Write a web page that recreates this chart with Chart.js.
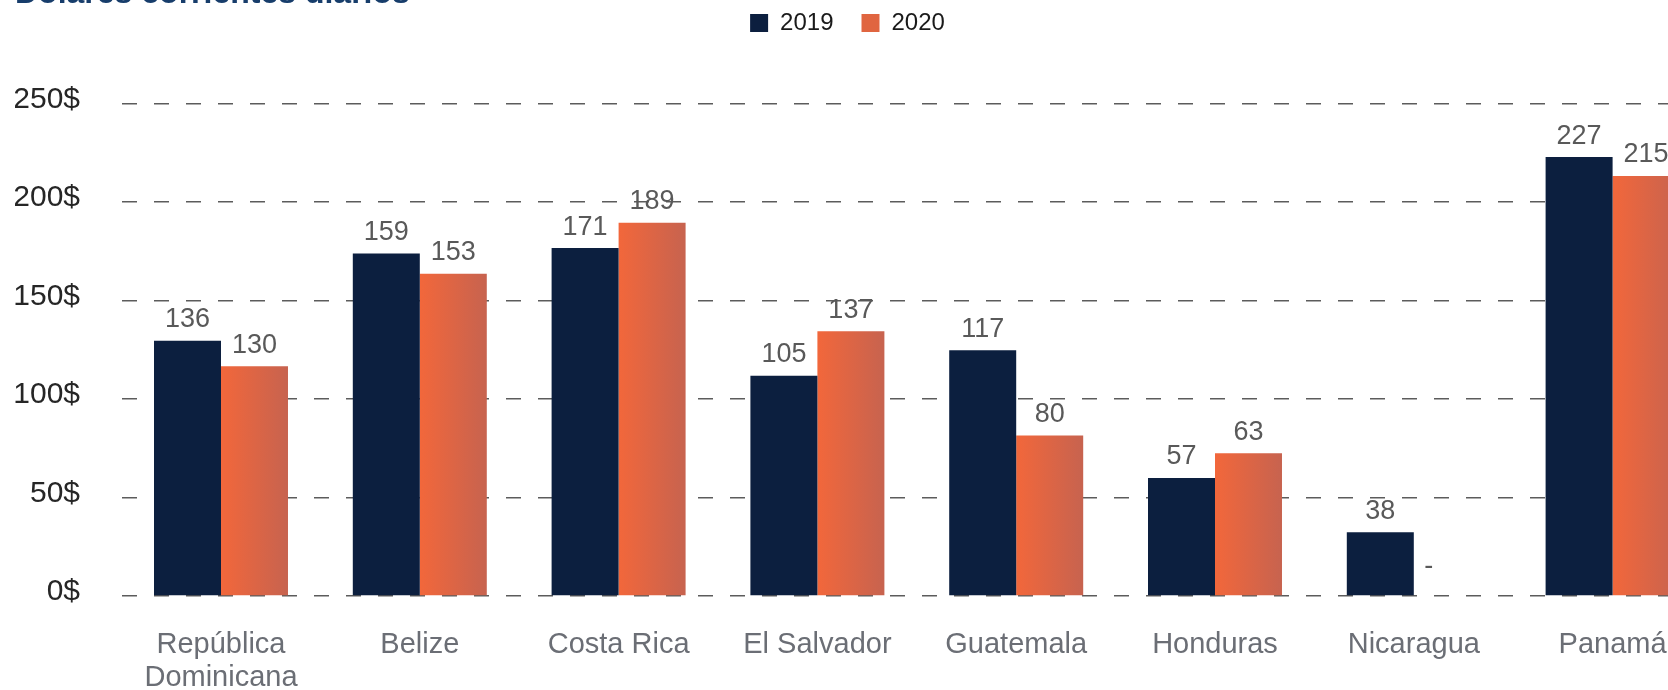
<!DOCTYPE html>
<html>
<head>
<meta charset="utf-8">
<script src="https://cdn.jsdelivr.net/npm/chart.js@4/dist/chart.umd.min.js"></script>
<style>
html, body { margin: 0; padding: 0; background: #ffffff; overflow: hidden; width: 1668px; height: 690px; }
#wrap { position: relative; width: 1668px; height: 690px; overflow: hidden; }
#box { position: absolute; left: 0; top: -25px; width: 1712px; height: 715px; }
</style>
</head>
<body>
<div id="wrap"><div id="box"><canvas id="c"></canvas></div></div>
<script>
// ---- data ----
const titleText = "Dólares corrientes diarios";
const categories = [["República", "Dominicana"], "Belize", "Costa Rica", "El Salvador", "Guatemala", "Honduras", "Nicaragua", "Panamá"];
const seriesNames = ["2019", "2020"];
const values2019 = [129.6, 173.9, 176.6, 111.8, 124.7, 59.9, 32.4, 222.8];
const values2020 = [116.6, 163.6, 189.5, 134.4, 81.5, 72.4, null, 213.2];
const labels2019 = ["136", "159", "171", "105", "117", "57", "38", "227"];
const labels2020 = ["130", "153", "189", "137", "80", "63", "-", "215"];
const yTicks = [0, 50, 100, 150, 200, 250];

// ---- styles ----
const FONT = '"Liberation Sans", Arial, Helvetica, sans-serif';
const NAVY = '#0c1f3f';
const ORANGE_L = '#f2673b';
const ORANGE_R = '#c7634f';
const CAT_PCT = 0.674;
Chart.defaults.font.family = FONT;

function orangeFill(ctx) {
  const chart = ctx.chart;
  const xs = chart.scales && chart.scales.x;
  if (!xs || ctx.dataIndex == null || !isFinite(xs.width) || xs.width <= 0) return '#e26640';
  const center = xs.getPixelForValue(ctx.dataIndex);
  const bw = (xs.width / categories.length) * CAT_PCT / 2;
  const g = chart.ctx.createLinearGradient(center, 0, center + bw, 0);
  g.addColorStop(0, ORANGE_L);
  g.addColorStop(1, ORANGE_R);
  return g;
}

const valueLabels = {
  id: 'valueLabels',
  afterDatasetsDraw(chart) {
    const ctx = chart.ctx;
    const ys = chart.scales.y;
    ctx.save();
    ctx.font = '27px ' + FONT;
    ctx.fillStyle = '#595959';
    ctx.textAlign = 'center';
    ctx.textBaseline = 'middle';
    [labels2019, labels2020].forEach((lab, di) => {
      const meta = chart.getDatasetMeta(di);
      meta.data.forEach((el, i) => {
        const v = chart.data.datasets[di].data[i];
        if (v == null) {
          ctx.fillText(lab[i], el.x - el.width / 2 + 15, ys.getPixelForValue(15));
        } else {
          ctx.fillText(lab[i], el.x, el.y - 21);
        }
      });
    });
    ctx.restore();
  }
};

const legendShift = {
  id: 'legendShift',
  afterLayout(chart) {
    const l = chart.legend;
    if (l) { l.left -= 16; l.right -= 16; }
  }
};

new Chart(document.getElementById('c'), {
  type: 'bar',
  data: {
    labels: categories,
    datasets: [
      { label: seriesNames[0], data: values2019, backgroundColor: NAVY, borderWidth: 0,
        categoryPercentage: CAT_PCT, barPercentage: 1.0 },
      { label: seriesNames[1], data: values2020, backgroundColor: orangeFill, borderWidth: 0,
        categoryPercentage: CAT_PCT, barPercentage: 1.0 }
    ]
  },
  options: {
    responsive: true,
    maintainAspectRatio: false,
    animation: false,
    layout: { padding: { left: 15, right: 0, top: 0, bottom: 0 } },
    plugins: {
      title: {
        display: true,
        text: titleText,
        align: 'start',
        color: '#173d6b',
        font: { size: 32, weight: 'bold', lineHeight: 1.2 },
        padding: { top: 0, bottom: -30.4 }
      },
      legend: {
        position: 'top',
        labels: {
          boxWidth: 18,
          boxHeight: 18,
          padding: 28,
          color: '#1a1a1a',
          font: { size: 24 },
          generateLabels(chart) {
            const items = Chart.defaults.plugins.legend.labels.generateLabels(chart);
            items.forEach((it, i) => { it.lineWidth = 0; if (i === 1) it.fillStyle = '#e06540'; });
            return items;
          }
        }
      },
      tooltip: { enabled: false }
    },
    scales: {
      x: {
        grid: { display: false, drawTicks: false },
        border: { display: false },
        ticks: { color: '#6b6e75', font: { size: 29, lineHeight: 1.14 }, padding: 32, maxRotation: 0, autoSkip: false },
        afterFit(scale) { scale.height = 94; }
      },
      y: {
        min: 0,
        max: 279.7,
        afterBuildTicks(scale) { scale.ticks = yTicks.map(v => ({ value: v })); },
        grid: { color: '#5c5c5c', lineWidth: 1.5, drawTicks: false },
        border: { display: false, dash: [15, 17] },
        ticks: {
          color: '#262626',
          font: { size: 30 },
          padding: 41.6,
          labelOffset: -4,
          callback: (v) => v + '$'
        },
        afterFit(scale) { scale.width = 106.6; }
      }
    }
  },
  plugins: [valueLabels, legendShift]
});
</script>
</body>
</html>
